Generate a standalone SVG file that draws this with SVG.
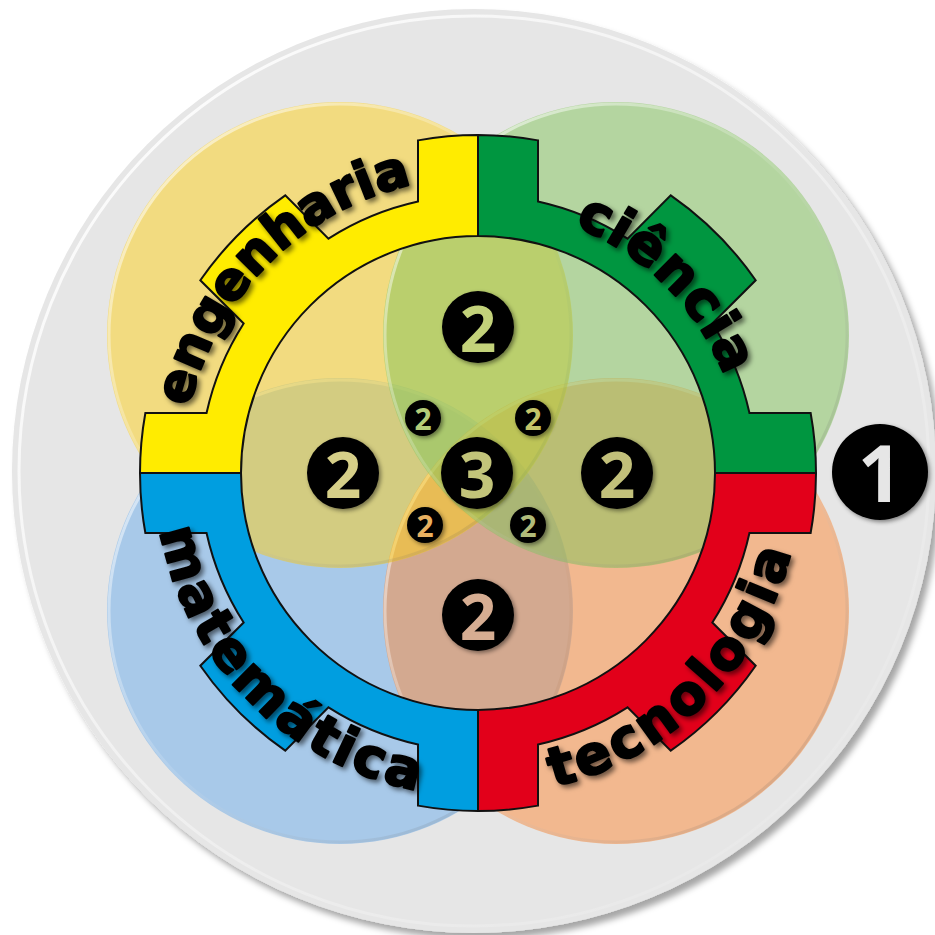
<svg xmlns="http://www.w3.org/2000/svg" width="935" height="935" viewBox="0 0 935 935">
  <style>
    .gear { stroke: #111; stroke-width: 2; stroke-linejoin: miter; }
    .label { font-family: "DejaVu Sans", "Liberation Sans", sans-serif; font-weight: 700; fill: #000; stroke: #000; stroke-width: 2.2; stroke-linejoin: round; }
    .num { font-family: "Open Sans", "Liberation Sans", sans-serif; font-weight: 700; text-anchor: middle; dominant-baseline: central; }
    .big { font-size: 64px; }
    .small { font-size: 30px; }
    .venn { opacity: 0.5; }
    .rim { fill: none; stroke: url(#rimGrad); stroke-width: 3; }
  </style>
  <defs>
    <filter id="discShadow" x="-10%" y="-10%" width="120%" height="120%">
      <feDropShadow dx="5" dy="6" stdDeviation="3" flood-color="#000" flood-opacity="0.35"/>
    </filter>
    <filter id="textShadow" x="-20%" y="-20%" width="140%" height="140%">
      <feDropShadow dx="3" dy="3" stdDeviation="2.5" flood-color="#000" flood-opacity="0.55"/>
    </filter>
    <filter id="dotShadow" x="-30%" y="-30%" width="160%" height="160%">
      <feDropShadow dx="2" dy="2" stdDeviation="2" flood-color="#000" flood-opacity="0.45"/>
    </filter>
    <linearGradient id="rimGrad" x1="0" y1="0" x2="1" y2="1">
      <stop offset="0" stop-color="#fff" stop-opacity="0.7"/>
      <stop offset="0.5" stop-color="#fff" stop-opacity="0.1"/>
      <stop offset="1" stop-color="#000" stop-opacity="0.15"/>
    </linearGradient>
    <linearGradient id="discRim" x1="0" y1="0" x2="1" y2="1">
      <stop offset="0" stop-color="#fff" stop-opacity="1"/>
      <stop offset="0.6" stop-color="#fff" stop-opacity="0.3"/>
      <stop offset="1" stop-color="#fff" stop-opacity="0"/>
    </linearGradient>
    <path id="pEng" d="M182,473 A296,296 0 0 1 478,177"/>
    <path id="pCie" d="M478,208 A265,265 0 0 1 743,473"/>
    <path id="pTec" d="M478,796 A323,323 0 0 0 801,473"/>
    <path id="pMat" d="M155,473 A323,323 0 0 0 478,796"/>
  </defs>

  <g id="background">
    <circle cx="474" cy="471" r="462" fill="#e6e6e6" filter="url(#discShadow)"/>
    <circle cx="474" cy="471" r="455" fill="none" stroke="url(#discRim)" stroke-width="3"/>
  </g>

  <g id="venn">
    <g id="circle-matematica">
      <circle class="venn" cx="340" cy="611" r="233" fill="#6aacec"/>
      <circle class="rim" cx="340" cy="611" r="231"/>
    </g>
    <g id="circle-tecnologia">
      <circle class="venn" cx="616" cy="611" r="233" fill="#fe8a38"/>
      <circle class="rim" cx="616" cy="611" r="231"/>
    </g>
    <g id="circle-engenharia">
      <circle class="venn" cx="340" cy="335" r="233" fill="#fed01a"/>
      <circle class="rim" cx="340" cy="335" r="231"/>
    </g>
    <g id="circle-ciencia">
      <circle class="venn" cx="616" cy="335" r="233" fill="#82c45a"/>
      <circle class="rim" cx="616" cy="335" r="231"/>
    </g>
  </g>

  <g id="gear">
    <g id="segment-engenharia">
      <path class="gear" fill="#ffec00" d="M241,473 L140,473 A338,338 0 0 1 145.36,413 L206.55,413 A278,278 0 0 1 243.64,323.47 L200.34,280.27 A338,338 0 0 1 285.27,195.34 L328.47,238.64 A278,278 0 0 1 418,201.55 L418,140.36 A338,338 0 0 1 478,135 L478,236 A237,237 0 0 0 241,473 Z"/>
      <text class="label" font-size="52" filter="url(#textShadow)"><textPath href="#pEng" startOffset="50%" text-anchor="middle">engenharia</textPath></text>
    </g>
    <g id="segment-ciencia">
      <path class="gear" fill="#009640" d="M478,236 L478,135 A338,338 0 0 1 538,140.36 L538,201.55 A278,278 0 0 1 627.53,238.64 L670.73,195.34 A338,338 0 0 1 755.66,280.27 L712.36,323.47 A278,278 0 0 1 749.45,413 L810.64,413 A338,338 0 0 1 816,473 L715,473 A237,237 0 0 0 478,236 Z"/>
      <text class="label" font-size="54" letter-spacing="1" filter="url(#textShadow)"><textPath href="#pCie" startOffset="50%" text-anchor="middle">ciência</textPath></text>
    </g>
    <g id="segment-tecnologia">
      <path class="gear" fill="#e2001a" d="M715,473 L816,473 A338,338 0 0 1 810.64,533 L749.45,533 A278,278 0 0 1 712.36,622.53 L755.66,665.73 A338,338 0 0 1 670.73,750.66 L627.53,707.36 A278,278 0 0 1 538,744.45 L538,805.64 A338,338 0 0 1 478,811 L478,710 A237,237 0 0 0 715,473 Z"/>
      <text class="label" font-size="54" letter-spacing="3.5" filter="url(#textShadow)"><textPath href="#pTec" startOffset="50%" text-anchor="middle">tecnologia</textPath></text>
    </g>
    <g id="segment-matematica">
      <path class="gear" fill="#009ee0" d="M478,710 L478,811 A338,338 0 0 1 418,805.64 L418,744.45 A278,278 0 0 1 328.47,707.36 L285.27,750.66 A338,338 0 0 1 200.34,665.73 L243.64,622.53 A278,278 0 0 1 206.55,533 L145.36,533 A338,338 0 0 1 140,473 L241,473 A237,237 0 0 0 478,710 Z"/>
      <text class="label" font-size="54" letter-spacing="3" filter="url(#textShadow)"><textPath href="#pMat" startOffset="50%" text-anchor="middle">matemática</textPath></text>
    </g>
  </g>

  <g id="connectors"></g>

  <g id="badges">
    <g id="badge-top">
      <circle cx="478" cy="327" r="36" fill="#000" filter="url(#dotShadow)"/>
      <text class="num big" x="478" y="327" fill="#c3d27a">2</text>
    </g>
    <g id="badge-left">
      <circle cx="343" cy="473" r="36" fill="#000" filter="url(#dotShadow)"/>
      <text class="num big" x="343" y="473" fill="#d6cf88">2</text>
    </g>
    <g id="badge-right">
      <circle cx="617" cy="473" r="36" fill="#000" filter="url(#dotShadow)"/>
      <text class="num big" x="617" y="473" fill="#c2c07a">2</text>
    </g>
    <g id="badge-bottom">
      <circle cx="478" cy="615" r="36" fill="#000" filter="url(#dotShadow)"/>
      <text class="num big" x="478" y="615" fill="#d6ad92">2</text>
    </g>
    <g id="badge-center">
      <circle cx="477" cy="473" r="36" fill="#000" filter="url(#dotShadow)"/>
      <text class="num big" x="477" y="473" fill="#c2c47a">3</text>
    </g>
    <g id="badge-tl">
      <circle cx="423" cy="418" r="18" fill="#000" filter="url(#dotShadow)"/>
      <text class="num small" x="423" y="418" fill="#b4cc78">2</text>
    </g>
    <g id="badge-tr">
      <circle cx="533" cy="418" r="18" fill="#000" filter="url(#dotShadow)"/>
      <text class="num small" x="533" y="418" fill="#c4c468">2</text>
    </g>
    <g id="badge-bl">
      <circle cx="425" cy="525" r="18" fill="#000" filter="url(#dotShadow)"/>
      <text class="num small" x="425" y="525" fill="#e8b060">2</text>
    </g>
    <g id="badge-br">
      <circle cx="528" cy="525" r="18" fill="#000" filter="url(#dotShadow)"/>
      <text class="num small" x="528" y="525" fill="#b0bb7a">2</text>
    </g>
    <g id="badge-one">
      <circle cx="880" cy="472" r="48" fill="#000" filter="url(#dotShadow)"/>
      <text class="num" x="880" y="472" font-size="78" fill="#e6e6e6">1</text>
    </g>
  </g>
</svg>
